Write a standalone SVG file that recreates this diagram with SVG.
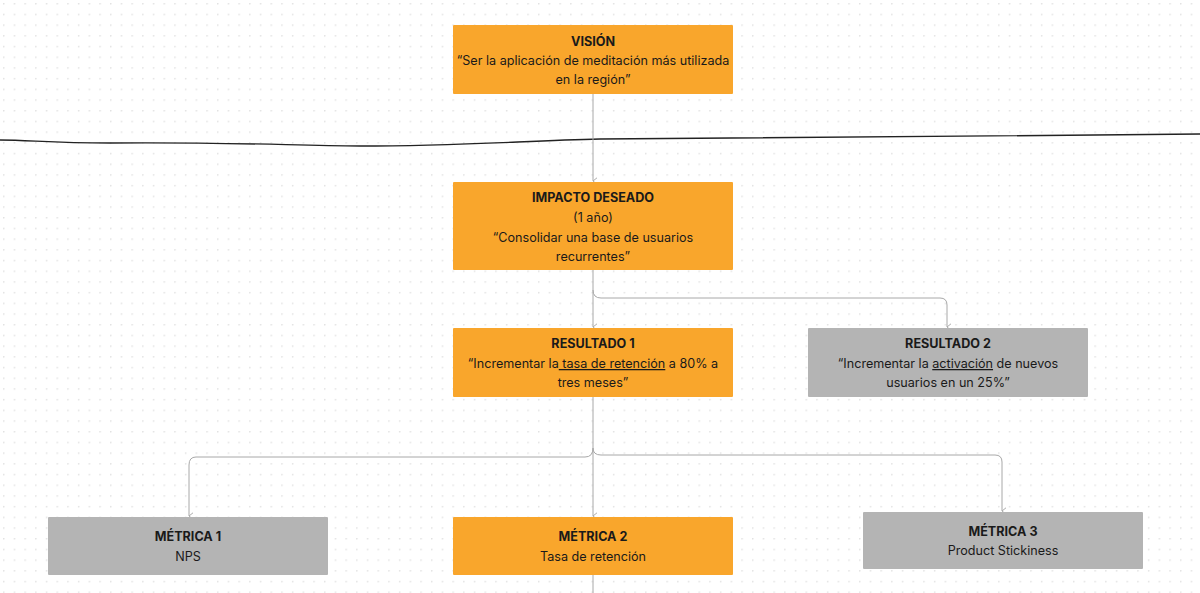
<svg xmlns="http://www.w3.org/2000/svg" width="1200" height="593" viewBox="0 0 1200 593">
<defs>
<pattern id="dots" x="3" y="3" width="10.7" height="10.7" patternUnits="userSpaceOnUse">
<circle cx="0.8" cy="0.8" r="0.8" fill="#dcdcdc"/>
</pattern>
<marker id="arr" viewBox="0 0 10 10" refX="5" refY="8" markerWidth="8" markerHeight="8" markerUnits="userSpaceOnUse" orient="auto-start-reverse">
<path d="M1,3 L5,8 L9,3" fill="none" stroke="#a8a8a8" stroke-width="1.2"/>
</marker>
<style>
.org{fill:#F9A62C;}
.gry{fill:#B4B4B4;}
text{font-family:Inter,"Noto Sans","Liberation Sans",sans-serif;font-size:12.6px;fill:#1a1a1a;text-anchor:middle;}
.t{font-weight:700;}
.c{fill:none;stroke:#a8a8a8;stroke-width:1;}
.u{text-decoration:underline;}
</style>
</defs>
<rect width="1200" height="593" fill="#ffffff"/>
<rect width="1200" height="593" fill="url(#dots)"/>
<path d="M0,140 C30,140 50,143 110,143 C220,142 280,145 360,146 C460,146 520,141 600,139 C760,138 1000,136 1200,134" fill="none" stroke="#222" stroke-width="1.3"/>
<g id="connectors">
<path class="c" d="M593,94 V181" marker-end="url(#arr)"/>
<path class="c" d="M593,270 V327" marker-end="url(#arr)"/>
<path class="c" d="M593,290 Q593,298 601,298 H940 Q947,298 947,305 V327" marker-end="url(#arr)"/>
<path class="c" d="M593,397 V516" marker-end="url(#arr)"/>
<path class="c" d="M593,448 Q593,457 585,457 H196 Q189,457 189,465 V516" marker-end="url(#arr)"/>
<path class="c" d="M593,448 Q593,455 601,455 H995 Q1002,455 1002,462 V511" marker-end="url(#arr)"/>
<path class="c" d="M593,575 V593"/>
</g>
<g id="vision">
<rect class="org" x="453" y="25" width="280" height="69" rx="1"/>
<text x="593" y="46" class="t">VISIÓN</text>
<text x="593" y="65">“Ser la aplicación de meditación más utilizada</text>
<text x="593" y="84">en la región”</text>
</g>
<g id="impacto">
<rect class="org" x="453" y="182" width="280" height="88" rx="1"/>
<text x="593" y="202" class="t">IMPACTO DESEADO</text>
<text x="593" y="222">(1 año)</text>
<text x="593" y="242">“Consolidar una base de usuarios</text>
<text x="593" y="261">recurrentes”</text>
</g>
<g id="resultado1">
<rect class="org" x="453" y="328" width="280" height="69" rx="1"/>
<text x="593" y="348" class="t">RESULTADO 1</text>
<text x="593" y="368">“Incrementar la<tspan class="u"> tasa de retención</tspan> a 80% a</text>
<text x="593" y="387">tres meses”</text>
</g>
<g id="resultado2">
<rect class="gry" x="808" y="328" width="280" height="69" rx="1"/>
<text x="948" y="348" class="t">RESULTADO 2</text>
<text x="948" y="368">“Incrementar la <tspan class="u">activación</tspan> de nuevos</text>
<text x="948" y="387">usuarios en un 25%”</text>
</g>
<g id="metrica1">
<rect class="gry" x="48" y="517" width="280" height="58" rx="1"/>
<text x="188" y="541" class="t">MÉTRICA 1</text>
<text x="188" y="561">NPS</text>
</g>
<g id="metrica2">
<rect class="org" x="453" y="517" width="280" height="58" rx="1"/>
<text x="593" y="541" class="t">MÉTRICA 2</text>
<text x="593" y="561">Tasa de retención</text>
</g>
<g id="metrica3">
<rect class="gry" x="863" y="512" width="280" height="57" rx="1"/>
<text x="1003" y="536" class="t">MÉTRICA 3</text>
<text x="1003" y="555">Product Stickiness</text>
</g>
</svg>
